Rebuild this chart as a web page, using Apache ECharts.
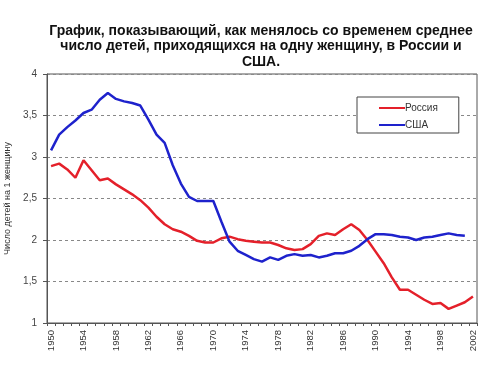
<!DOCTYPE html>
<html><head><meta charset="utf-8">
<script src="https://cdn.jsdelivr.net/npm/echarts@6/dist/echarts.min.js"></script>
<style>html,body{margin:0;padding:0;background:#fff}#c{width:500px;height:375px}</style>
</head><body><div id="c"></div>
<script>
var years = [];
for (var y = 1950; y <= 2002; y++) years.push(String(y));
var russia = [2.89,2.92,2.85,2.75,2.96,2.84,2.72,2.74,2.67,2.61,2.55,2.48,2.39,2.28,2.19,2.13,2.10,2.05,1.99,1.97,1.97,2.02,2.04,2.01,1.99,1.98,1.97,1.97,1.94,1.90,1.88,1.89,1.95,2.05,2.08,2.06,2.13,2.19,2.12,2.00,1.86,1.72,1.55,1.40,1.40,1.34,1.28,1.23,1.24,1.17,1.21,1.25,1.32];
var usa = [3.08,3.27,3.36,3.44,3.53,3.57,3.69,3.77,3.70,3.67,3.65,3.62,3.45,3.27,3.17,2.90,2.68,2.52,2.47,2.47,2.47,2.22,1.98,1.87,1.82,1.77,1.74,1.79,1.76,1.81,1.83,1.81,1.82,1.79,1.81,1.84,1.84,1.87,1.93,2.01,2.07,2.07,2.06,2.04,2.03,2.00,2.03,2.04,2.06,2.08,2.06,2.05,null];
var seriesNames = ['Россия','США'];
var titleText = 'График, показывающий, как менялось со временем среднее\nчисло детей, приходящихся на одну женщину, в России и\nСША.';
var yName = 'Число детей на 1 женщину';

var chart = echarts.init(document.getElementById('c'), null, {renderer:'canvas'});
chart.setOption({
  animation:false,
  backgroundColor:'#fff',
  title:{text:titleText,left:256,top:18,textAlign:'center',
    textStyle:{fontFamily:'Liberation Sans, Arial',fontSize:14,fontWeight:'bold',color:'#111',lineHeight:15.5}},
  grid:{left:47,right:23,top:74,bottom:52,show:true,borderColor:'#555',borderWidth:1,
    containLabel:false,outerBoundsMode:'none'},
  legend:{orient:'vertical',left:357,top:97,
    padding:[6,21,3,22],itemGap:7,itemWidth:26,itemHeight:10,
    borderColor:'#444',borderWidth:1,backgroundColor:'#fff',
    icon:'path://M0,4L26,4L26,6L0,6Z',
    textStyle:{fontFamily:'Liberation Sans, Arial',fontSize:10,color:'#333',padding:[0,0,0,-5]},
    data:seriesNames},
  xAxis:{type:'category',data:years,boundaryGap:true,
    axisLine:{lineStyle:{color:'#555',width:1}},
    axisTick:{show:true,interval:0,length:3,lineStyle:{color:'#555'}},
    axisLabel:{interval:3,rotate:90,fontFamily:'Liberation Sans, Arial',fontSize:9.5,color:'#333',margin:7},
    splitLine:{show:false}},
  yAxis:{type:'value',min:1,max:4,interval:0.5,
    name:yName,nameLocation:'middle',nameGap:30,
    nameTextStyle:{fontFamily:'Liberation Sans, Arial',fontSize:9,color:'#333'},
    axisLine:{show:true,lineStyle:{color:'#555',width:1}},
    axisTick:{show:true,length:4,lineStyle:{color:'#555'}},
    axisLabel:{fontFamily:'Liberation Sans, Arial',fontSize:10,color:'#444',margin:10,
      formatter:function(v){return String(v).replace('.',',');}},
    splitLine:{show:true,lineStyle:{color:'#888',type:[3,3],width:1}}},
  series:[
    {name:seriesNames[0],type:'line',data:russia,symbol:'none',smooth:false,
      lineStyle:{color:'#e4202a',width:2.5},itemStyle:{color:'#e4202a'}},
    {name:seriesNames[1],type:'line',data:usa,symbol:'none',smooth:false,
      lineStyle:{color:'#1e22cc',width:2.5},itemStyle:{color:'#1e22cc'}}
  ]
});
</script></body></html>
